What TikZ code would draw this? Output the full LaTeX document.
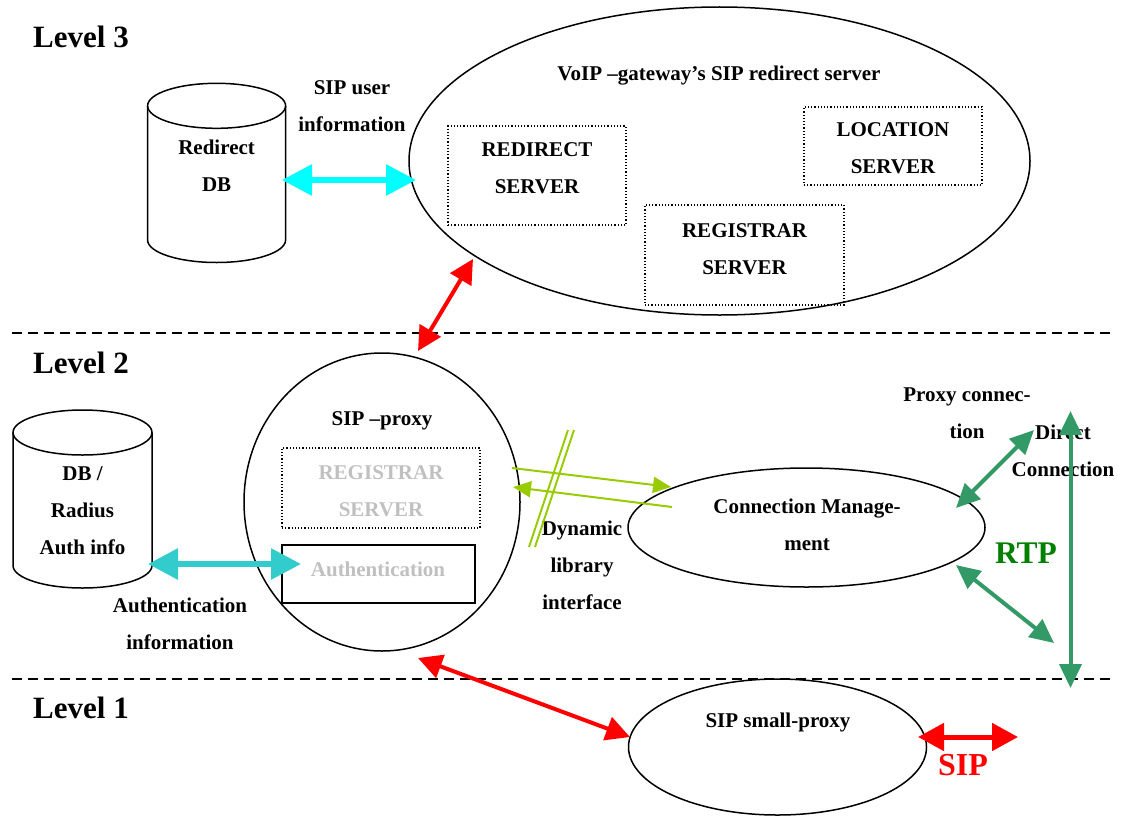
\documentclass[tikz,border=0pt]{standalone}
\usepackage{fontspec}
\setmainfont{Liberation Serif}
\usetikzlibrary{arrows.meta,shapes.geometric}
\definecolor{sipred}{HTML}{FF0000}
\definecolor{dbcyan}{HTML}{00FFFF}
\definecolor{authteal}{HTML}{33CCCC}
\definecolor{dllgreen}{HTML}{99CC00}
\definecolor{rtpline}{HTML}{339966}
\definecolor{rtptext}{HTML}{008000}
\definecolor{greytext}{HTML}{C0C0C0}
\begin{document}
\begin{tikzpicture}[x=1pt,y=-1pt,
  % multi-line labels sit on the baseline of their last line
  txt/.style={font=\bfseries\fontsize{21}{37}\selectfont, align=center, anchor=base, inner sep=0pt},
  lvl/.style={font=\bfseries\fontsize{31}{37}\selectfont, anchor=base west, inner sep=0pt},
  oval/.style={draw, ellipse, line width=1.5pt, inner sep=0pt},
  dotbox/.style={draw, dotted, line width=1.2pt, inner sep=0pt},
  solidbox/.style={draw, line width=1.5pt, inner sep=0pt},
  levelline/.style={line width=1.3pt, dash pattern=on 10pt off 6pt},
  cyl/.style={line width=1.5pt},
  redarrow/.style={draw=sipred, line width=4pt, {Triangle[length=24pt,width=24pt]}-{Triangle[length=24pt,width=24pt]}},
  cyanarrow/.style={line width=6pt, {Triangle[length=30pt,width=30pt]}-{Triangle[length=30pt,width=30pt]}},
  rtparrow/.style={draw=rtpline, line width=4pt, {Triangle[length=24pt,width=22pt]}-{Triangle[length=24pt,width=22pt]}},
  dllarrow/.style={draw=dllgreen, line width=2pt, -{Triangle[length=18pt,width=16pt]}},
  dllbar/.style={draw=dllgreen, line width=2pt}
]
\useasboundingbox (0,0) rectangle (1123,816);

% ---- level separators and titles
\coordinate (s1a) at (12,333);  \coordinate (s1b) at (1110,333);
\coordinate (s2a) at (12,679);  \coordinate (s2b) at (1110,679);
\draw[levelline] (s1a) -- (s1b);
\draw[levelline] (s2a) -- (s2b);
\node[lvl] (lv3) at (33,48) {Level 3};
\node[lvl] (lv2) at (33,373) {Level 2};
\node[lvl] (lv1) at (33,718) {Level 1};

% ---- level 3: redirect database
\draw[cyl] (216.6,105.8) ellipse[x radius=69pt, y radius=22.5pt];
\draw[cyl] (147.6,105.8) -- (147.6,240)
  arc[start angle=180, end angle=360, x radius=69pt, y radius=22.5pt] -- (285.6,105.8);
\node[txt] (rdb) at (216.6,191) {Redirect\\DB};

% ---- level 3: gateway redirect server
\node[oval, minimum width=621pt, minimum height=308pt] (gw) at (719.5,161) {};
\node[txt] (gwt) at (719,80) {VoIP –gateway’s SIP redirect server};
\node[dotbox, minimum width=178pt, minimum height=99pt] (rsbox) at (537,175.5) {};
\node[txt] (rst) at (537,193) {REDIRECT\\SERVER};
\node[dotbox, minimum width=178pt, minimum height=78pt] (lsbox) at (893,146) {};
\node[txt] (lst) at (893,173) {LOCATION\\SERVER};
\node[dotbox, minimum width=199pt, minimum height=100pt] (gsbox) at (744.5,255) {};
\node[txt] (gst) at (744.5,274) {REGISTRAR\\SERVER};
\node[txt] (sui) at (352,131) {SIP user\\information};

% ---- level 2: auth database
\draw[cyl] (82.5,432.5) ellipse[x radius=69.5pt, y radius=22.5pt];
\draw[cyl] (13,432.5) -- (13,565.5)
  arc[start angle=180, end angle=360, x radius=69.5pt, y radius=22.5pt] -- (152,432.5);
\node[txt] (adb) at (82.5,554) {DB /\\Radius\\Auth info};

% ---- level 2: SIP proxy
\node[oval, minimum width=276pt, minimum height=298pt] (proxy) at (382,502) {};
\node[txt] (pxt) at (382,425) {SIP –proxy};
\node[dotbox, minimum width=198pt, minimum height=80pt] (prbox) at (381,488) {};
\node[txt, text=greytext] (prt) at (381,516) {REGISTRAR\\SERVER};
\node[solidbox, minimum width=193pt, minimum height=58pt] (aubox) at (378.5,574) {};
\node[txt, text=greytext] (aut) at (378,576) {Authentication};
\node[txt] (aui) at (180,649) {Authentication\\information};

% ---- level 2: connection management
\node[oval, minimum width=357pt, minimum height=119pt] (cm) at (806.5,527.5) {};
\node[txt] (cmt) at (807,550) {Connection Manage-\\ment};
\node[txt] (dli) at (582,609) {Dynamic\\library\\interface};
\node[txt] (pct) at (967,438) {Proxy connec-\\tion};
\node[txt] (dct) at (1063,476) {Direct\\Connection};
\node[txt, font=\bfseries\fontsize{31.5}{37}\selectfont, text=rtptext] (rtp) at (1026,563) {RTP};

% ---- level 1: small proxy
\node[oval, minimum width=298pt, minimum height=136pt] (sp) at (777.5,747) {};
\node[txt] (spt) at (778,727) {SIP small-proxy};
\node[txt, font=\bfseries\fontsize{32}{37}\selectfont, text=sipred] (sipt) at (963,775) {SIP};

% ---- connector end points
\coordinate (c1a) at (282,180);  \coordinate (c1b) at (416,180);
\coordinate (c2a) at (148,564);  \coordinate (c2b) at (301,564);
\coordinate (r1a) at (473,259);  \coordinate (r1b) at (418,351);
\coordinate (r2a) at (418,658);  \coordinate (r2b) at (630,737);
\coordinate (r3a) at (918,737);  \coordinate (r3b) at (1018,737);
\coordinate (d1a) at (512,468);  \coordinate (d1b) at (671,487);
\coordinate (d2a) at (672,507);  \coordinate (d2b) at (513,487);
\coordinate (b1a) at (568,430);  \coordinate (b1b) at (529,547);
\coordinate (b2a) at (574,430);  \coordinate (b2b) at (535,547);
\coordinate (g1a) at (1034,430); \coordinate (g1b) at (956,508);
\coordinate (g2a) at (956,565);  \coordinate (g2b) at (1054,643);
\coordinate (g3a) at (1070.5,411); \coordinate (g3b) at (1070.5,688);

% ---- connectors
\draw[cyanarrow, draw=dbcyan, fill=dbcyan] (c1a) -- (c1b);
\draw[cyanarrow, draw=authteal, fill=authteal] (c2a) -- (c2b);
\draw[redarrow] (r1a) -- (r1b);
\draw[redarrow] (r2a) -- (r2b);
\draw[redarrow, line width=5pt, {Triangle[length=26pt,width=27pt]}-{Triangle[length=26pt,width=27pt]}] (r3a) -- (r3b);
\draw[dllarrow] (d1a) -- (d1b);
\draw[dllarrow] (d2a) -- (d2b);
\draw[dllbar] (b1a) -- (b1b);
\draw[dllbar] (b2a) -- (b2b);
\draw[rtparrow] (g1a) -- (g1b);
\draw[rtparrow] (g2a) -- (g2b);
\draw[rtparrow] (g3a) -- (g3b);
\end{tikzpicture}
\end{document}
